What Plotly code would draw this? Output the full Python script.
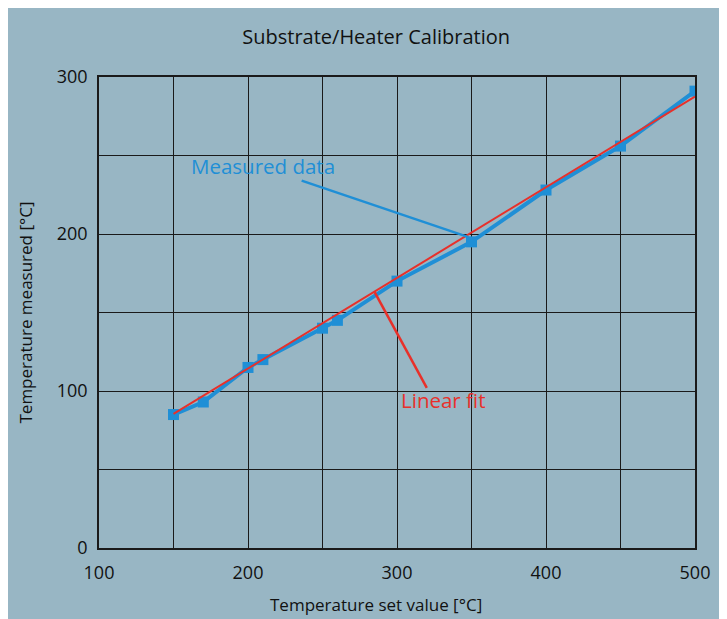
import plotly.graph_objects as go

# Data
set_values = [150, 170, 200, 210, 250, 260, 300, 350, 400, 450, 500]
measured = [85, 93, 115, 120, 140, 145, 170, 195, 228, 256, 291]

# linear fit as drawn in the reference (slope, intercept)
fit_slope = 0.5771
fit_intercept = -1.1

x_ticks = [100, 200, 300, 400, 500]
y_ticks = [0, 100, 200, 300]

title_text = "Substrate/Heater Calibration"
x_title = "Temperature set value [°C]"
y_title = "Temperature measured [°C]"

# annotation anchors (data units)
meas_label = ("Measured data", 210, 243)
meas_line = (236, 234, 348, 198)
fit_label = ("Linear fit", 331, 94)
fit_line = (320, 102, 285, 163)

BG = "#98b6c4"
BLUE = "#1f8fd6"
RED = "#e8302a"
GRID = "#1a1a1a"

fit_x = [set_values[0], set_values[-1]]
fit_y = [fit_slope * v + fit_intercept for v in fit_x]

fig = go.Figure()
fig.add_trace(go.Scatter(
    x=set_values, y=measured, mode="lines+markers",
    line=dict(color=BLUE, width=4),
    marker=dict(symbol="square", size=11, color=BLUE),
    showlegend=False, hoverinfo="skip"))
fig.add_trace(go.Scatter(
    x=fit_x, y=fit_y, mode="lines",
    line=dict(color=RED, width=2),
    showlegend=False, hoverinfo="skip"))

font_main = "Open Sans, Noto Sans, sans-serif"

fig.add_annotation(x=meas_label[1], y=meas_label[2], text=meas_label[0],
                   showarrow=False, font=dict(family=font_main, size=20.5, color=BLUE))
fig.add_annotation(x=fit_label[1], y=fit_label[2], text=fit_label[0],
                   showarrow=False, font=dict(family=font_main, size=20.5, color=RED))
fig.add_shape(type="line", x0=meas_line[0], y0=meas_line[1], x1=meas_line[2], y1=meas_line[3],
              line=dict(color=BLUE, width=2.5))
fig.add_shape(type="line", x0=fit_line[0], y0=fit_line[1], x1=fit_line[2], y1=fit_line[3],
              line=dict(color=RED, width=2.5))

# x-axis title (placed slightly left of the plot centre as in the reference)
fig.add_annotation(xref="paper", yref="paper", x=0.465, y=-0.119, text=x_title,
                   showarrow=False, xanchor="center", yanchor="middle",
                   font=dict(family=font_main, size=17, color="#111"))

fig.update_layout(
    width=727, height=619,
    margin=dict(l=91, r=40, t=69, b=79),
    paper_bgcolor=BG, plot_bgcolor=BG,
    title=dict(text=title_text, x=0.465, xref="paper", xanchor="center",
               y=1 - 29 / 619, yanchor="middle",
               font=dict(family=font_main, size=20, color="#111")),
    xaxis=dict(range=[100, 500], tickvals=list(range(100, 501, 50)),
               ticktext=[str(v) if v in x_ticks else "" for v in range(100, 501, 50)],
               showgrid=True, gridcolor=GRID, gridwidth=1.3,
               showline=True, linecolor=GRID, linewidth=1.5, mirror=True,
               zeroline=False, ticks="", ticklabelstandoff=8,
               tickfont=dict(family=font_main, size=18, color="#111")),
    yaxis=dict(range=[0, 300], tickvals=list(range(0, 301, 50)),
               ticktext=[str(v) if v in y_ticks else "" for v in range(0, 301, 50)],
               showgrid=True, gridcolor=GRID, gridwidth=1.3,
               showline=True, linecolor=GRID, linewidth=1.5, mirror=True,
               zeroline=False, ticks="", ticklabelstandoff=6,
               tickfont=dict(family=font_main, size=18, color="#111"),
               title=dict(text=y_title, standoff=20,
                          font=dict(family=font_main, size=17, color="#111"))),
)

fig.write_html("out.html")
